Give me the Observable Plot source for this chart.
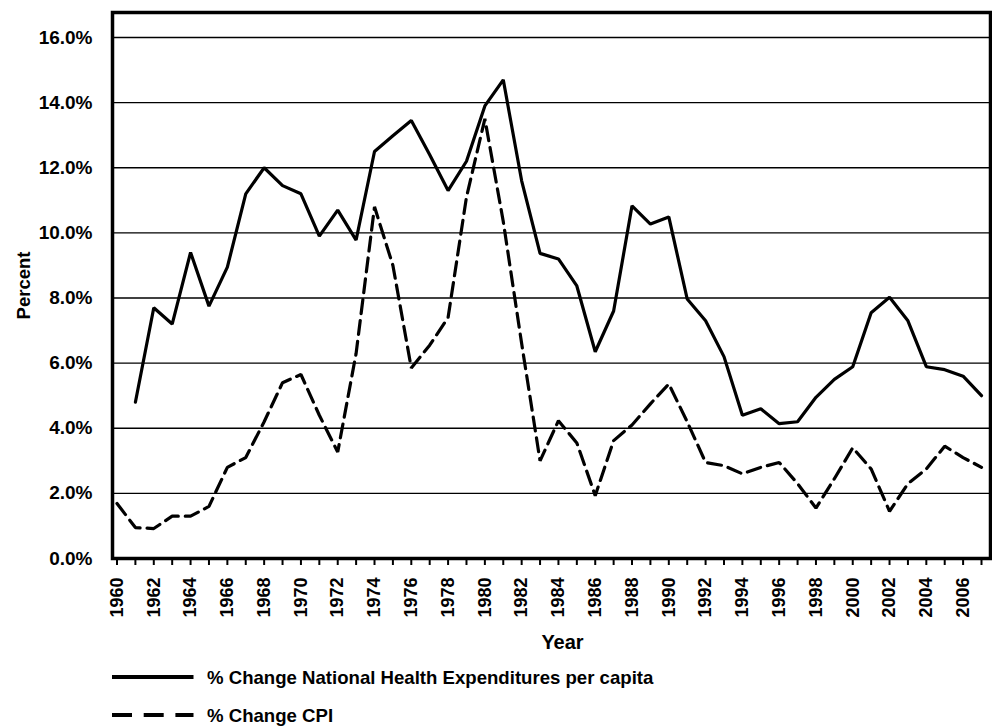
<!DOCTYPE html>
<html>
<head>
<meta charset="utf-8">
<script src="https://cdn.jsdelivr.net/npm/d3@7"></script>
<script src="https://cdn.jsdelivr.net/npm/@observablehq/plot@0.6"></script>
<style>
  html, body { margin: 0; padding: 0; background: white; }
  #chart { width: 992px; }
  .legend text { font-family: "Liberation Sans", Arial, sans-serif; font-weight: bold; font-size: 18.6px; }
</style>
</head>
<body>
<div id="chart"></div>
<script>
const years = [1960,1961,1962,1963,1964,1965,1966,1967,1968,1969,
               1970,1971,1972,1973,1974,1975,1976,1977,1978,1979,
               1980,1981,1982,1983,1984,1985,1986,1987,1988,1989,
               1990,1991,1992,1993,1994,1995,1996,1997,1998,1999,
               2000,2001,2002,2003,2004,2005,2006,2007];

// % Change National Health Expenditures per capita
const nhe = [null,4.8,7.7,7.2,9.4,7.75,8.95,11.2,12.0,11.45,
             11.2,9.9,10.7,9.78,12.5,12.98,13.45,12.4,11.3,12.2,
             13.9,14.7,11.6,9.37,9.2,8.37,6.35,7.6,10.83,10.27,
             10.49,7.97,7.3,6.2,4.4,4.6,4.14,4.2,4.95,5.5,
             5.89,7.55,8.02,7.3,5.89,5.8,5.6,5.0];

// % Change CPI
const cpi = [1.69,0.95,0.92,1.3,1.3,1.6,2.8,3.1,4.2,5.4,
             5.65,4.4,3.27,6.3,10.8,9.0,5.85,6.55,7.4,11.1,
             13.5,10.35,6.6,3.0,4.23,3.55,1.93,3.62,4.1,4.75,
             5.36,4.2,2.95,2.85,2.6,2.8,2.95,2.3,1.55,2.45,
             3.4,2.75,1.45,2.3,2.75,3.45,3.1,2.8];

const yTicks = [0,2,4,6,8,10,12,14,16];
const yearLabels = [1960,1962,1964,1966,1968,1970,1972,1974,1976,1978,1980,1982,1984,1986,1988,1990,1992,1994,1996,1998,2000,2002,2004,2006];

const plot = Plot.plot({
  width: 992,
  height: 655,
  marginLeft: 112,
  marginRight: 2,
  marginTop: 12,
  marginBottom: 97,
  style: {
    fontFamily: "'Liberation Sans', Arial, sans-serif",
    fontSize: "18px",
    fontWeight: "bold",
    color: "black",
    background: "white",
    overflow: "visible"
  },
  x: { type: "linear", domain: [1960, 2007], insetLeft: 4.5, insetRight: 9 },
  y: { domain: [0, 16], insetTop: 25 },
  marks: [
    Plot.gridY(yTicks.filter(d => d > 0), { stroke: "black", strokeOpacity: 1, strokeWidth: 1.3 }),
    Plot.axisY(yTicks, { tickSize: 0, tickPadding: 20, fontSize: 19, tickFormat: d => d.toFixed(1) + "%", label: null }),
    Plot.axisX(years, { tickSize: 7, tickFormat: () => "", strokeWidth: 2, label: null }),
    Plot.axisX(yearLabels, { tickSize: 0, tickPadding: 19, fontSize: 18, tickRotate: -90, tickFormat: d => String(d), label: null }),
    Plot.line(years.map((y, i) => ({ y, v: cpi[i] })), { x: "y", y: "v", stroke: "black", strokeWidth: 3.2, strokeDasharray: "14,7", strokeLinejoin: "miter" }),
    Plot.line(years.map((y, i) => ({ y, v: nhe[i] })), { x: "y", y: "v", stroke: "black", strokeWidth: 3.2, strokeLinejoin: "miter" }),
    Plot.frame({ stroke: "black", strokeWidth: 3.5 }),
    Plot.text(["Year"], { frameAnchor: "bottom", lineAnchor: "middle", textAnchor: "middle", dy: 84, dx: 11, fontSize: 20, fontWeight: "bold", text: d => d }),
    Plot.text(["Percent"], { frameAnchor: "left", lineAnchor: "middle", textAnchor: "middle", dx: -88, rotate: -90, fontSize: 18.5, fontWeight: "bold", text: d => d })
  ]
});
document.getElementById("chart").appendChild(plot);

// Legend below the chart
const legendItems = [
  { label: "% Change National Health Expenditures per capita", dash: null },
  { label: "% Change CPI", dash: "20,11.7" }
];
const ns = "http://www.w3.org/2000/svg";
const lg = document.createElementNS(ns, "svg");
lg.setAttribute("width", 992);
lg.setAttribute("height", 71);
lg.setAttribute("class", "legend");
lg.style.display = "block";
legendItems.forEach((item, i) => {
  const cy = 22 + i * 38;
  const ln = document.createElementNS(ns, "line");
  ln.setAttribute("x1", 112); ln.setAttribute("x2", 193.5);
  ln.setAttribute("y1", cy); ln.setAttribute("y2", cy);
  ln.setAttribute("stroke", "black"); ln.setAttribute("stroke-width", 4);
  if (item.dash) ln.setAttribute("stroke-dasharray", item.dash);
  lg.appendChild(ln);
  const tx = document.createElementNS(ns, "text");
  tx.setAttribute("x", 207); tx.setAttribute("y", cy);
  tx.setAttribute("dominant-baseline", "central");
  tx.textContent = item.label;
  lg.appendChild(tx);
});
document.getElementById("chart").appendChild(lg);
</script>
</body>
</html>
